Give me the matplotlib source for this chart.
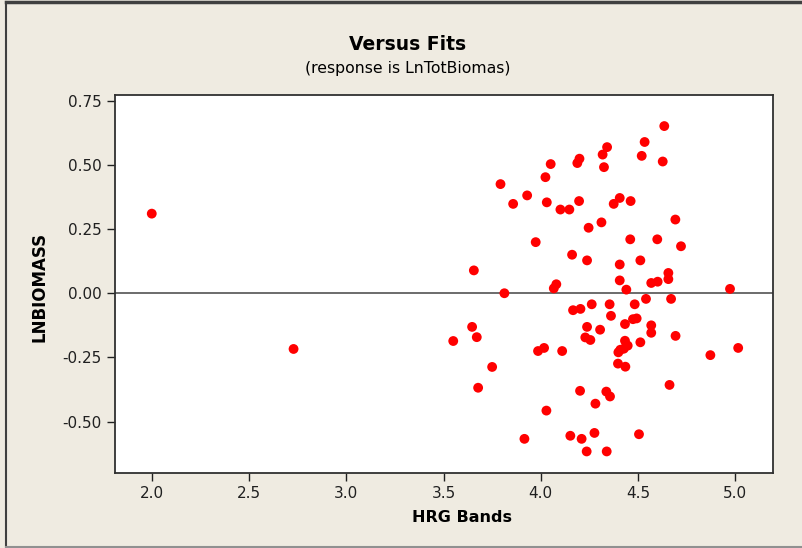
import matplotlib
matplotlib.use("Agg")
import matplotlib.pyplot as plt
from matplotlib.lines import Line2D

fits = [2.000, 2.729, 4.341, 4.318, 4.325, 4.199, 4.188, 4.051, 4.024, 3.793,
        3.930, 3.858, 4.031, 4.101, 4.147, 4.197, 4.406, 4.375, 4.462, 4.312,
        4.246, 3.974, 4.460, 4.161, 4.238, 4.406, 3.656, 4.406, 4.080, 4.067,
        4.440, 3.813, 4.262, 4.354, 4.166, 4.204, 4.361, 4.433, 3.647, 4.238,
        4.305, 3.671, 3.550, 4.229, 4.255, 4.433, 3.986, 4.017, 4.110, 4.399,
        4.427, 4.397, 4.435, 3.750, 3.678, 4.202, 4.337, 4.356, 4.281, 4.029,
        3.916, 4.152, 4.210, 4.276, 4.236, 4.339, 4.635, 4.534, 4.519, 4.627,
        4.692, 4.599, 4.721, 4.512, 4.656, 4.656, 4.568, 4.601, 4.973, 4.541,
        4.670, 4.483, 4.474, 4.493, 4.568, 4.568, 4.693, 4.512, 4.447, 4.409,
        4.872, 5.015, 4.662, 4.505]
resid = [0.310, -0.217, 0.569, 0.540, 0.491, 0.524, 0.507, 0.503, 0.452, 0.425,
         0.381, 0.348, 0.354, 0.326, 0.326, 0.359, 0.371, 0.348, 0.359, 0.276,
         0.255, 0.199, 0.210, 0.150, 0.128, 0.112, 0.089, 0.050, 0.035, 0.019,
         0.014, 0.000, -0.043, -0.043, -0.066, -0.061, -0.088, -0.120, -0.131, -0.131,
         -0.142, -0.171, -0.186, -0.172, -0.182, -0.185, -0.225, -0.213, -0.225, -0.230,
         -0.216, -0.274, -0.286, -0.287, -0.368, -0.380, -0.383, -0.402, -0.430, -0.457,
         -0.567, -0.555, -0.567, -0.544, -0.616, -0.616, 0.651, 0.589, 0.535, 0.513,
         0.287, 0.210, 0.183, 0.128, 0.079, 0.055, 0.040, 0.045, 0.017, -0.022,
         -0.022, -0.043, -0.101, -0.098, -0.125, -0.154, -0.166, -0.191, -0.204, -0.220,
         -0.241, -0.213, -0.357, -0.549]

xticks = [2.0, 2.5, 3.0, 3.5, 4.0, 4.5, 5.0]
yticks = [-0.50, -0.25, 0.00, 0.25, 0.50, 0.75]

plt.rcParams['font.family'] = ['DejaVu Sans']

W, H = 803, 548
fig = plt.figure(figsize=(W/100, H/100), dpi=100, facecolor='#EFEBE1')
ax = fig.add_axes([115/W, 1-473/H, (773-115)/W, (473-95)/H])
ax.set_facecolor('white')

ax.axhline(0, color='#606060', lw=1.3, zorder=1)
ax.scatter(fits, resid, s=50, color='#FF0000', edgecolors='none', zorder=3)

ax.set_xlim(1.811, 5.194)
ax.set_ylim(-0.700, 0.772)
ax.set_xticks(xticks)
ax.set_xticklabels([f"{t:.1f}" for t in xticks])
ax.set_yticks(yticks)
ax.set_yticklabels([f"{t:.2f}" for t in yticks])
ax.tick_params(direction='out', length=5.5, width=1, labelsize=11, colors='#202020', pad=4)
for sp in ax.spines.values():
    sp.set_color('#303030')
    sp.set_linewidth(1.3)

fig.text(462/W, 1-517/H, 'HRG Bands', ha='center', va='center',
         fontsize=11.5, fontweight='bold')
fig.text(40/W, 1-287/H, 'LNBIOMASS', ha='center', va='center', rotation=90,
         fontsize=12, fontweight='bold')

fig.text(408/W, 1-44/H, 'Versus Fits', ha='center', va='center',
         fontsize=13.5, fontweight='bold')
fig.text(408/W, 1-68/H, '(response is LnTotBiomas)', ha='center', va='center',
         fontsize=11.3)

# figure frame (left, top, bottom)
fig.add_artist(Line2D([6/W, 6/W], [1-2/H, 1-547/H], transform=fig.transFigure,
                      color='#404040', lw=1.5))
fig.add_artist(Line2D([6/W, 1], [1-2/H, 1-2/H], transform=fig.transFigure,
                      color='#404040', lw=2.5))
fig.add_artist(Line2D([6/W, 1], [1-547/H, 1-547/H], transform=fig.transFigure,
                      color='#909090', lw=1.5))

fig.savefig('out.png', dpi=100, facecolor=fig.get_facecolor())
